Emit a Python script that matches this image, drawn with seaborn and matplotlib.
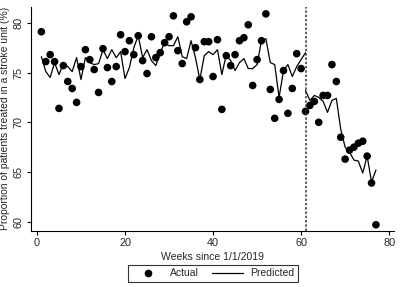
#!/usr/bin/env python3
import numpy as np
import pandas as pd
import matplotlib
matplotlib.use("Agg")
import matplotlib.pyplot as plt
from matplotlib.lines import Line2D
import seaborn as sns

# ── Data ──────────────────────────────────────────────────────────────────────
weeks = list(range(1, 78))
actual = [
    79.1, 76.1, 76.8, 76.1, 71.4, 75.7, 74.1, 73.4, 72.0, 75.6,
    77.3, 76.3, 75.3, 73.0, 77.4, 75.5, 74.1, 75.6, 78.8, 77.1,
    78.2, 76.8, 78.7, 76.2, 74.9, 78.6, 76.5, 77.0, 78.0, 78.6,
    80.7, 77.2, 75.9, 80.1, 80.6, 77.5, 74.3, 78.1, 78.1, 74.6,
    78.3, 71.3, 76.7, 75.7, 76.8, 78.2, 78.5, 79.8, 73.7, 76.3,
    78.2, 80.9, 73.3, 70.4, 72.3, 75.2, 70.9, 73.4, 76.9, 75.4,
    71.1, 71.7, 72.1, 70.0, 72.7, 72.7, 75.8, 74.1, 68.5, 66.3,
    67.2, 67.5, 67.9, 68.1, 66.6, 63.9, 59.7,
]

pre_weeks = list(range(1, 62))
pre_pred = [
    76.6, 75.1, 74.5, 76.0, 74.8, 75.9, 75.6, 75.1, 76.5, 74.3,
    76.5, 76.0, 75.8, 75.9, 77.3, 76.4, 77.3, 76.5, 77.1, 74.4,
    75.5, 77.5, 78.7, 76.5, 77.3, 76.2, 75.7, 77.0, 78.0, 77.7,
    77.7, 78.6, 76.6, 76.4, 78.2, 76.5, 74.3, 76.7, 77.1, 76.8,
    77.3, 74.8, 76.8, 76.2, 75.2, 76.0, 76.4, 75.4, 75.4, 75.8,
    78.2, 78.4, 76.0, 75.8, 72.5, 75.2, 75.8, 74.6, 75.6, 76.3,
    77.0,
]
post_weeks = list(range(61, 78))
post_pred = [
    73.2, 72.2, 72.7, 72.5, 72.1, 71.0, 72.2, 72.4, 69.3, 67.5,
    67.0, 66.2, 66.1, 64.9, 66.6, 64.0, 65.2,
]

INTERRUPTION = 61

df_act = pd.DataFrame({"week": weeks, "value": actual})
df_pred = pd.DataFrame({
    "week": pre_weeks + post_weeks,
    "value": pre_pred + post_pred,
    "period": ["pre"] * len(pre_weeks) + ["post"] * len(post_weeks),
})

# ── Plot ──────────────────────────────────────────────────────────────────────
sns.set_style("ticks")
plt.rcParams["font.family"] = ["Liberation Sans", "DejaVu Sans"]

fig = plt.figure(figsize=(4.0, 2.87), dpi=100)
ax = fig.add_axes([0.077, 0.196, 0.908, 0.78])

sns.lineplot(data=df_pred, x="week", y="value", units="period", estimator=None,
             color="black", lw=0.9, ax=ax, legend=False)
sns.scatterplot(data=df_act, x="week", y="value", color="black", s=30,
                edgecolor="none", ax=ax, legend=False)
ax.axvline(INTERRUPTION, color="#333333", lw=1.1, ls=(0, (1.6, 1.2)))

ax.set_xlim(-1.4, 81.1)
ax.set_ylim(59.1, 81.6)
ax.set_xticks([0, 20, 40, 60, 80])
ax.set_yticks([60, 65, 70, 75, 80])
ax.set_xlabel("Weeks since 1/1/2019", fontsize=7.5, labelpad=3)
ax.set_ylabel("Proportion of patients treated in a stroke unit (%)", fontsize=7.5, labelpad=3)
ax.tick_params(axis="both", labelsize=7.8, length=3, width=0.8, color="black", pad=2)
for lbl in ax.get_yticklabels():
    lbl.set_rotation(90)
    lbl.set_va("center")
for side in ["top", "right"]:
    ax.spines[side].set_visible(False)
for side in ["left", "bottom"]:
    ax.spines[side].set_linewidth(0.8)
    ax.spines[side].set_color("black")

handles = [
    Line2D([], [], marker="o", color="black", ls="none", markersize=4.5),
    Line2D([], [], color="black", lw=0.9),
]
leg = fig.legend(handles, ["Actual", "Predicted"], loc="lower center",
                 bbox_to_anchor=(0.533, 0.0), ncol=2, fontsize=7.5,
                 frameon=True, fancybox=False, edgecolor="black",
                 handlelength=3.0, columnspacing=1.2, handletextpad=0.7,
                 borderpad=0.35, handleheight=0.6)
leg.get_frame().set_linewidth(0.8)

fig.savefig("out.png", dpi=100)
